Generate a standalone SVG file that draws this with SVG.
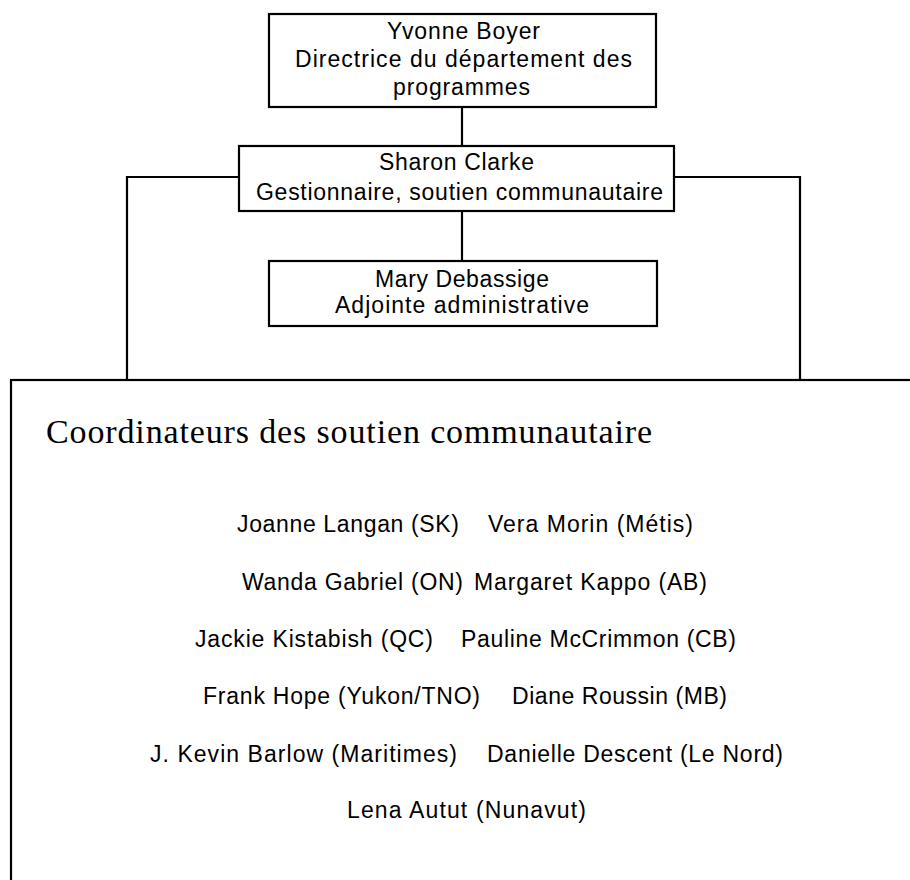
<svg xmlns="http://www.w3.org/2000/svg" width="910" height="880" viewBox="0 0 910 880">
<style>
.box{fill:#fff;stroke:#000;stroke-width:2.2}
.ln{stroke:#000;stroke-width:2.2;fill:none}
.t{font-family:"Liberation Sans",Arial,sans-serif;font-size:23px;fill:#000}
.s{font-family:"Liberation Serif","DejaVu Serif",serif;font-size:34px;fill:#000}
</style>
<rect width="910" height="880" fill="#fff"/>
<g id="connectors">
<line class="ln" x1="462" y1="107" x2="462" y2="146"/>
<line class="ln" x1="462" y1="211" x2="462" y2="261"/>
<polyline class="ln" points="239,177 127,177 127,380"/>
<polyline class="ln" points="674,177 800,177 800,380"/>
</g>
<g id="yvonne">
<rect class="box" x="269" y="14" width="387" height="93"/>
<text class="t" x="387" y="39" textLength="153" lengthAdjust="spacing">Yvonne Boyer</text>
<text class="t" x="295" y="67" textLength="337" lengthAdjust="spacing">Directrice du département des</text>
<text class="t" x="393" y="95" textLength="137" lengthAdjust="spacing">programmes</text>
</g>
<g id="sharon">
<rect class="box" x="239" y="146" width="435" height="65"/>
<text class="t" x="379" y="170" textLength="155" lengthAdjust="spacing">Sharon Clarke</text>
<text class="t" x="256" y="200" textLength="407" lengthAdjust="spacing">Gestionnaire, soutien communautaire</text>
</g>
<g id="mary">
<rect class="box" x="269" y="261" width="388" height="65"/>
<text class="t" x="375" y="287" textLength="174" lengthAdjust="spacing">Mary Debassige</text>
<text class="t" x="335" y="313" textLength="254" lengthAdjust="spacing">Adjointe administrative</text>
</g>
<g id="coordinateurs">
<rect class="box" x="11" y="380" width="940" height="540"/>
<text class="s" x="46" y="443" textLength="606" lengthAdjust="spacing">Coordinateurs des soutien communautaire</text>
<text class="t" x="237" y="532" textLength="222" lengthAdjust="spacing">Joanne Langan (SK)</text>
<text class="t" x="488" y="532" textLength="205" lengthAdjust="spacing">Vera Morin (Métis)</text>
<text class="t" x="242" y="590" textLength="221" lengthAdjust="spacing">Wanda Gabriel (ON)</text>
<text class="t" x="474" y="590" textLength="233" lengthAdjust="spacing">Margaret Kappo (AB)</text>
<text class="t" x="195" y="647" textLength="238" lengthAdjust="spacing">Jackie Kistabish (QC)</text>
<text class="t" x="461" y="647" textLength="275" lengthAdjust="spacing">Pauline McCrimmon (CB)</text>
<text class="t" x="203" y="704" textLength="277" lengthAdjust="spacing">Frank Hope (Yukon/TNO)</text>
<text class="t" x="512" y="704" textLength="215" lengthAdjust="spacing">Diane Roussin (MB)</text>
<text class="t" x="150" y="762" textLength="307" lengthAdjust="spacing">J. Kevin Barlow (Maritimes)</text>
<text class="t" x="487" y="762" textLength="296" lengthAdjust="spacing">Danielle Descent (Le Nord)</text>
<text class="t" x="347" y="818" textLength="239" lengthAdjust="spacing">Lena Autut (Nunavut)</text>
</g>
</svg>
